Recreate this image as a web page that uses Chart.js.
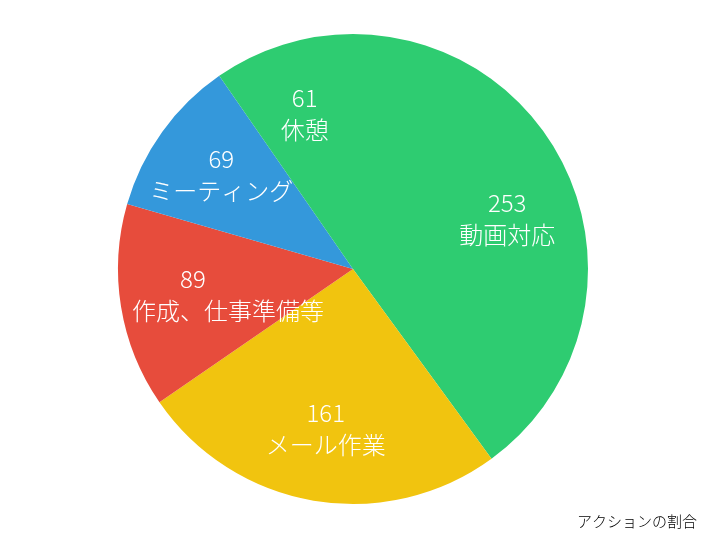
<!DOCTYPE html>
<html>
<head>
<meta charset="utf-8">
<script src="https://cdn.jsdelivr.net/npm/chart.js@4"></script>
<style>
  html, body { margin: 0; padding: 0; background: #fff; }
  #wrap { width: 706px; height: 540px; }
</style>
</head>
<body>
<div id="wrap"><canvas id="pieChart"></canvas></div>
<script>
const categories = ['動画対応', 'メール作業', '作成、仕事準備等', 'ミーティング', '休憩'];
const counts = [253, 161, 89, 69, 61];
const sliceColors = ['#2ECC71', '#F1C40F', '#E74C3C', '#3498DB', '#2ECC71'];
const chartTitle = 'アクションの割合';

const fontFamily = '"Noto Sans CJK JP", "Noto Sans", sans-serif';

// value + name drawn inside each slice
const sliceLabels = {
    id: 'sliceLabels',
    afterDatasetsDraw(chart) {
        const ctx = chart.ctx;
        const meta = chart.getDatasetMeta(0);
        ctx.save();
        ctx.fillStyle = '#fff';
        ctx.font = '300 24px ' + fontFamily;
        ctx.textBaseline = 'middle';
        ctx.textAlign = 'left';
        meta.data.forEach((arc, i) => {
            const p = arc.getProps(['x', 'y', 'startAngle', 'endAngle', 'outerRadius'], true);
            const mid = (p.startAngle + p.endAngle) / 2;
            const r = p.outerRadius * 0.69;
            const cx = p.x + Math.cos(mid) * r;
            const cy = p.y + Math.sin(mid) * r;
            const minLeft = p.x - p.outerRadius + 14;
            [String(counts[i]), categories[i]].forEach((txt, k) => {
                const w = ctx.measureText(txt).width;
                let left = cx - w / 2;
                if (left < minLeft) left = minLeft;
                ctx.fillText(txt, left, cy + (k === 0 ? -16 : 16));
            });
        });
        ctx.restore();
    }
};

new Chart(document.getElementById('pieChart').getContext('2d'), {
    type: 'pie',
    data: {
        labels: categories,
        datasets: [{
            data: counts,
            backgroundColor: sliceColors,
            borderWidth: 0
        }]
    },
    options: {
        responsive: true,
        maintainAspectRatio: false,
        animation: false,
        layout: {
            padding: { top: 34, left: 9, right: 9, bottom: 0 }
        },
        plugins: {
            legend: { display: false },
            tooltip: { enabled: false },
            title: {
                display: true,
                text: chartTitle,
                position: 'bottom',
                align: 'end',
                color: '#000',
                font: { family: fontFamily, size: 15, weight: '300' },
                padding: { top: 8, bottom: 10 }
            }
        }
    },
    plugins: [sliceLabels]
});
</script>
</body>
</html>
